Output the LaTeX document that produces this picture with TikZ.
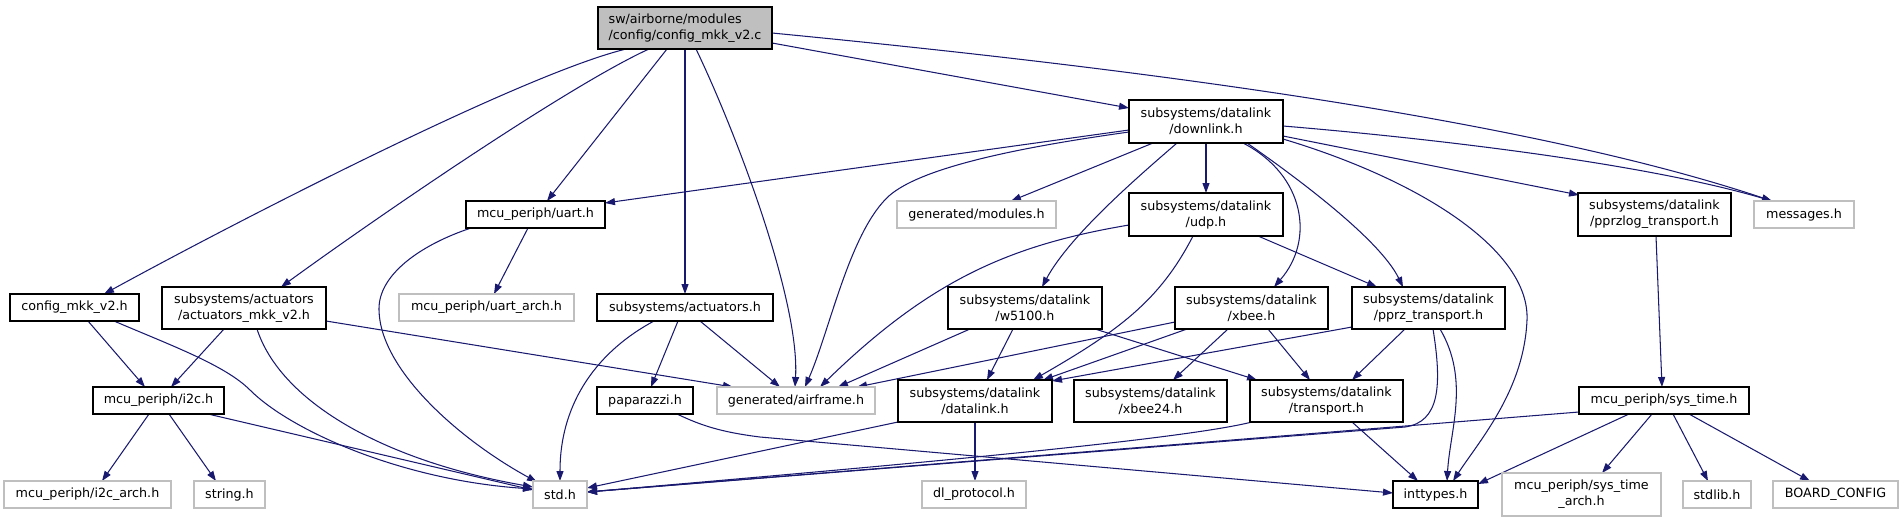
\documentclass[tikz,border=0pt]{standalone}
\usepackage{fontspec}
\newfontfamily\dgfont{DejaVu Sans}
\usetikzlibrary{arrows.meta,calc,backgrounds}
\definecolor{mblue}{HTML}{191970}
\definecolor{lgray}{HTML}{BFBFBF}
\tikzset{
  nd/.style={draw=black, fill=white, line width=1.2pt, inner sep=0pt, outer sep=0pt, align=center,
    font={\dgfont\fontsize{12.7}{16}\selectfont}},
  gnd/.style={nd, draw=lgray},
  edge/.style={draw=mblue, line width=1.05pt, -{Triangle[length=10pt,width=7pt]}},
}
\begin{document}
\begin{tikzpicture}[x=1pt,y=-1pt]
\useasboundingbox (0,0) rectangle (1903,523);
% nodes
\node[nd, fill=lgray, align=left, minimum width=174pt, minimum height=42pt] (root) at (685,28) {sw/airborne/modules\\/config/config\_mkk\_v2.c};
\node[nd, minimum width=154pt, minimum height=43pt] (downlink) at (1206,121.5) {subsystems/datalink\\/downlink.h};
\node[gnd, minimum width=159pt, minimum height=27pt] (modules) at (976.5,214.5) {generated/modules.h};
\node[nd, minimum width=154pt, minimum height=43pt] (udp) at (1206,214.5) {subsystems/datalink\\/udp.h};
\node[nd, minimum width=139pt, minimum height=27pt] (uart) at (535.5,214.5) {mcu\_periph/uart.h};
\node[nd, minimum width=153pt, minimum height=43pt] (pprzlog) at (1654.5,214.5) {subsystems/datalink\\/pprzlog\_transport.h};
\node[gnd, minimum width=100pt, minimum height=27pt] (messages) at (1804,214.5) {messages.h};
\node[nd, minimum width=129pt, minimum height=27pt] (config) at (74.5,307.5) {config\_mkk\_v2.h};
\node[nd, minimum width=164pt, minimum height=42pt] (actmkk) at (244,308) {subsystems/actuators\\/actuators\_mkk\_v2.h};
\node[gnd, minimum width=175pt, minimum height=27pt] (uartarch) at (486.5,307.5) {mcu\_periph/uart\_arch.h};
\node[nd, minimum width=176pt, minimum height=27pt] (act) at (685,307.5) {subsystems/actuators.h};
\node[nd, minimum width=154pt, minimum height=42pt] (w5100) at (1025,308) {subsystems/datalink\\/w5100.h};
\node[nd, minimum width=153pt, minimum height=42pt] (xbee) at (1251.5,308) {subsystems/datalink\\/xbee.h};
\node[nd, minimum width=153pt, minimum height=42pt] (pprz) at (1428.5,308) {subsystems/datalink\\/pprz\_transport.h};
\node[nd, minimum width=131pt, minimum height=27pt] (i2c) at (158.5,400.5) {mcu\_periph/i2c.h};
\node[nd, minimum width=96pt, minimum height=27pt] (paparazzi) at (645,400.5) {paparazzi.h};
\node[gnd, minimum width=158pt, minimum height=27pt] (airframe) at (796,400.5) {generated/airframe.h};
\node[nd, minimum width=154pt, minimum height=42pt] (datalink) at (975,401) {subsystems/datalink\\/datalink.h};
\node[nd, minimum width=153pt, minimum height=42pt] (xbee24) at (1150.5,401) {subsystems/datalink\\/xbee24.h};
\node[nd, minimum width=153pt, minimum height=42pt] (transport) at (1326.5,401) {subsystems/datalink\\/transport.h};
\node[nd, minimum width=170pt, minimum height=27pt] (systime) at (1664,400.5) {mcu\_periph/sys\_time.h};
\node[gnd, minimum width=167pt, minimum height=27pt] (i2carch) at (87.5,494.5) {mcu\_periph/i2c\_arch.h};
\node[gnd, minimum width=71pt, minimum height=27pt] (string) at (229.5,494.5) {string.h};
\node[gnd, minimum width=54pt, minimum height=27pt] (std) at (560,494.5) {std.h};
\node[gnd, minimum width=104pt, minimum height=27pt] (dlproto) at (974,494.5) {dl\_protocol.h};
\node[nd, minimum width=85pt, minimum height=27pt] (inttypes) at (1435.5,494.5) {inttypes.h};
\node[gnd, minimum width=159pt, minimum height=43pt] (systimearch) at (1581.5,494.5) {mcu\_periph/sys\_time\\\_arch.h};
\node[gnd, minimum width=68pt, minimum height=27pt] (stdlib) at (1717,494.5) {stdlib.h};
\node[gnd, minimum width=125pt, minimum height=27pt] (board) at (1835.5,494.5) {BOARD\_CONFIG};
% edges
\begin{pgfonlayer}{background}
% root
\draw[edge] ($(root.north west)+(28,42)$) .. controls (520,75) and (230,225) .. ($(config.north west)+(94,0)$);
\draw[edge] ($(root.north west)+(51,42)$) .. controls (570,85) and (380,215) .. ($(actmkk.north west)+(119,0)$);
\draw[edge] ($(root.north west)+(69,42)$) -- ($(uart.north west)+(81,0)$);
\draw[edge] ($(root.north west)+(87,42)$) -- ($(act.north west)+(88,0)$);
\draw[edge] ($(root.north west)+(98,42)$) .. controls (735,130) and (800,300) .. ($(airframe.north west)+(78,0)$);
\draw[edge] ($(root.north west)+(174,36)$) -- ($(downlink.north west)+(0,8)$);
\draw[edge] ($(root.north west)+(174,26)$) .. controls (1050,60) and (1500,110) .. ($(messages.north west)+(18,0)$);
% downlink
\draw[edge] ($(downlink.north west)+(0,30)$) -- ($(uart.north west)+(139,2)$);
\draw[edge] ($(downlink.north west)+(0,32)$) .. controls (1000,150) and (920,170) .. (890,195) .. controls (850,230) and (830,330) .. ($(airframe.north west)+(88,0)$);
\draw[edge] ($(downlink.north west)+(24,43)$) -- ($(modules.north west)+(114,0)$);
\draw[edge] ($(downlink.north west)+(77,43)$) -- ($(udp.north west)+(77,0)$);
\draw[edge] ($(downlink.north west)+(48,43)$) .. controls (1140,175) and (1070,235) .. ($(w5100.north west)+(94,0)$);
\draw[edge] ($(downlink.north west)+(114,43)$) .. controls (1305,175) and (1315,240) .. ($(xbee.north west)+(99,0)$);
\draw[edge] ($(downlink.north west)+(118,43)$) .. controls (1300,180) and (1380,240) .. ($(pprz.north west)+(51,0)$);
\draw[edge] ($(downlink.north west)+(154,36)$) -- ($(pprzlog.north west)+(1,2)$);
\draw[edge] ($(downlink.north west)+(154,26)$) .. controls (1450,140) and (1650,165) .. ($(messages.north west)+(18,0)$);
\draw[edge] ($(downlink.north west)+(154,39)$) .. controls (1420,180) and (1530,250) .. (1527,320) .. controls (1524,390) and (1480,440) .. ($(inttypes.north west)+(60,0)$);
% udp
\draw[edge] ($(udp.north west)+(0,32)$) .. controls (1010,245) and (930,280) .. ($(airframe.north west)+(103,0)$);
\draw[edge] ($(udp.north west)+(64,43)$) .. controls (1160,300) and (1120,330) .. ($(datalink.north west)+(135,0)$);
\draw[edge] ($(udp.north west)+(129,43)$) -- ($(pprz.north west)+(25,0)$);
% uart
\draw[edge] ($(uart.north west)+(62,27)$) -- ($(uartarch.north west)+(95,0)$);
\draw[edge] ($(uart.north west)+(5,27)$) .. controls (420,245) and (378,275) .. (379,310) .. controls (380,370) and (460,440) .. ($(std.north west)+(4,1)$);
% pprzlog
\draw[edge] ($(pprzlog.north west)+(78,43)$) -- ($(systime.north west)+(83,0)$);
% config
\draw[edge] ($(config.north west)+(78,27)$) -- ($(i2c.north west)+(52,0)$);
\draw[edge] ($(config.north west)+(104,27)$) .. controls (170,345) and (225,365) .. (250,390) .. controls (290,430) and (400,480) .. ($(std.north west)+(0,8)$);
% actuators_mkk
\draw[edge] ($(actmkk.north west)+(62,42)$) -- ($(i2c.north west)+(78,0)$);
\draw[edge] ($(actmkk.north west)+(95,42)$) .. controls (280,400) and (380,460) .. ($(std.north west)+(0,6)$);
\draw[edge] ($(actmkk.north west)+(164,34)$) -- ($(airframe.north west)+(16,0)$);
% actuators
\draw[edge] ($(act.north west)+(57,27)$) .. controls (600,350) and (560,400) .. ($(std.north west)+(27,0)$);
\draw[edge] ($(act.north west)+(81,27)$) -- ($(paparazzi.north west)+(54,0)$);
\draw[edge] ($(act.north west)+(103,27)$) -- ($(airframe.north west)+(63,0)$);
% w5100
\draw[edge] ($(w5100.north west)+(22,42)$) -- ($(airframe.north west)+(121,0)$);
\draw[edge] ($(w5100.north west)+(65,42)$) -- ($(datalink.north west)+(89,0)$);
\draw[edge] ($(w5100.north west)+(147,42)$) -- ($(transport.north west)+(7,0)$);
% xbee
\draw[edge] ($(xbee.north west)+(0,35)$) -- ($(airframe.north west)+(140,0)$);
\draw[edge] ($(xbee.north west)+(12,42)$) -- ($(datalink.north west)+(145,0)$);
\draw[edge] ($(xbee.north west)+(53,42)$) -- ($(xbee24.north west)+(99,0)$);
\draw[edge] ($(xbee.north west)+(93,42)$) -- ($(transport.north west)+(60,0)$);
% pprz_transport
\draw[edge] ($(pprz.north west)+(0,40)$) -- ($(datalink.north west)+(154,1)$);
\draw[edge] ($(pprz.north west)+(53,42)$) -- ($(transport.north west)+(102,0)$);
\draw[edge] ($(pprz.north west)+(81,42)$) .. controls (1442,385) and (1440,422) .. (1405,427) -- ($(std.north west)+(54,11)$);
\draw[edge] ($(pprz.north west)+(88,42)$) .. controls (1470,380) and (1450,430) .. ($(inttypes.north west)+(54,0)$);
% transport
\draw[edge] ($(transport.north west)+(102,42)$) -- ($(inttypes.north west)+(25,0)$);
\draw[edge] ($(transport.north west)+(2,42)$) .. controls (1180,440) and (900,465) .. ($(std.north west)+(54,11)$);
% sys_time
\draw[edge] ($(systime.north west)+(0,25)$) -- ($(std.north west)+(54,11)$);
\draw[edge] ($(systime.north west)+(50,27)$) -- ($(inttypes.north west)+(85,3)$);
\draw[edge] ($(systime.north west)+(73,27)$) -- ($(systimearch.north west)+(100,0)$);
\draw[edge] ($(systime.north west)+(94,27)$) -- ($(stdlib.north west)+(25,0)$);
\draw[edge] ($(systime.north west)+(110,27)$) -- ($(board.north west)+(37,0)$);
% i2c
\draw[edge] ($(i2c.north west)+(56,27)$) -- ($(i2carch.north west)+(98,0)$);
\draw[edge] ($(i2c.north west)+(76,27)$) -- ($(string.north west)+(22,0)$);
\draw[edge] ($(i2c.north west)+(115,27)$) -- ($(std.north west)+(0,9)$);
% paparazzi
\draw[edge] ($(paparazzi.north west)+(80,27)$) .. controls (700,425) and (720,432) .. (760,437) -- ($(inttypes.north west)+(0,12)$);
% datalink
\draw[edge] ($(datalink.north west)+(77,42)$) -- ($(dlproto.north west)+(53,0)$);
\draw[edge] ($(datalink.north west)+(0,42)$) -- ($(std.north west)+(54,7)$);
\end{pgfonlayer}
\end{tikzpicture}
\end{document}
